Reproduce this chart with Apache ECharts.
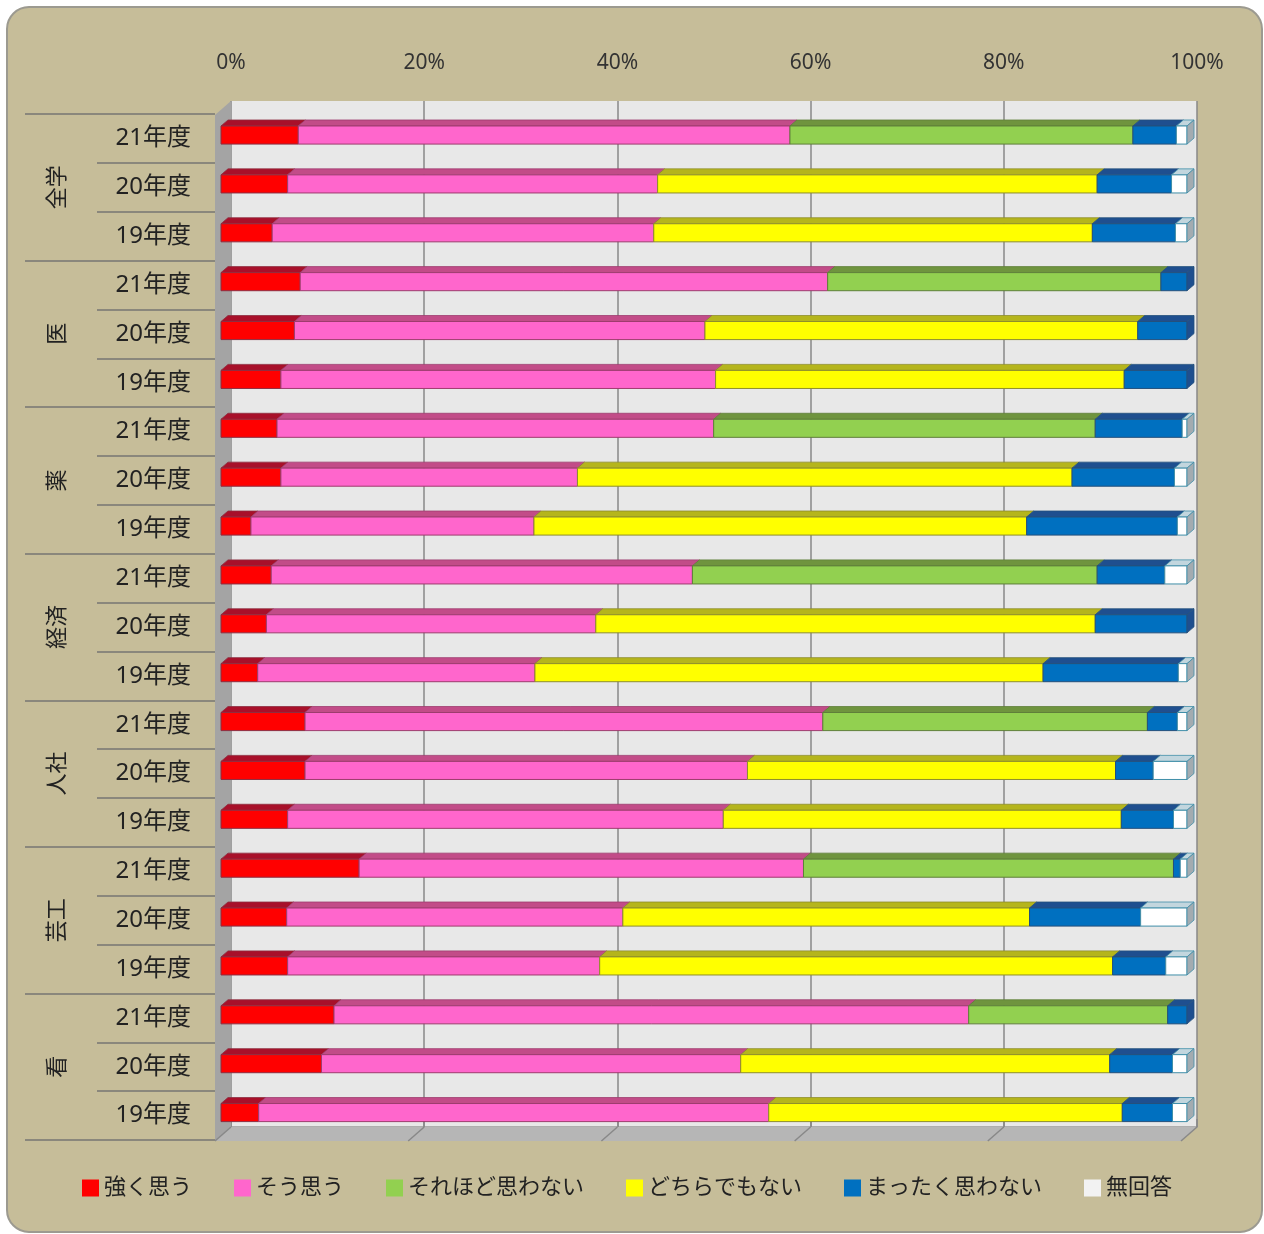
<!DOCTYPE html>
<html>
<head>
<meta charset="utf-8">
<script src="https://cdn.jsdelivr.net/npm/echarts@6/dist/echarts.min.js"></script>
<style>
  html, body { margin: 0; padding: 0; background: #ffffff; }
  #chart { width: 1264px; height: 1234px; }
</style>
</head>
<body>
<div id="chart"></div>
<script>
// 学部 / 年度
const groups = ['全学', '医', '薬', '経済', '人社', '芸工', '看']
const years = ['21年度', '20年度', '19年度']
const rowLabels = groups.flatMap(() => years)

const xTicks = [0, 20, 40, 60, 80, 100]

// 回答割合 (%) 上の行から順に
const strong   = [8.0, 6.9, 5.3, 8.2, 7.6, 6.2, 5.8, 6.2, 3.1, 5.2, 4.7, 3.8, 8.7, 8.7, 6.9, 14.3, 6.8, 6.9, 11.7, 10.4, 3.9]
const agree    = [50.9, 38.3, 39.5, 54.6, 42.5, 45.0, 45.2, 30.7, 29.3, 43.6, 34.1, 28.7, 53.6, 45.8, 45.1, 46.0, 34.8, 32.3, 65.7, 43.4, 52.8]
const notMuch  = [35.5, 0, 0, 34.5, 0, 0, 39.5, 0, 0, 41.9, 0, 0, 33.6, 0, 0, 38.3, 0, 0, 20.6, 0, 0]
const neither  = [0, 45.5, 45.4, 0, 44.8, 42.3, 0, 51.2, 51.0, 0, 51.7, 52.6, 0, 38.1, 41.2, 0, 42.1, 53.1, 0, 38.2, 36.6]
const notAtAll = [4.5, 7.7, 8.6, 2.7, 5.1, 6.5, 9.0, 10.6, 15.6, 7.0, 9.5, 14.0, 3.1, 3.9, 5.4, 0.7, 11.5, 5.5, 2.0, 6.5, 5.2]
const noAnswer = [1.1, 1.6, 1.2, 0, 0, 0, 0.5, 1.3, 1.0, 2.3, 0, 0.9, 1.0, 3.5, 1.4, 0.7, 4.8, 2.2, 0, 1.5, 1.5]

const seriesNames = ['強く思う', 'そう思う', 'それほど思わない', 'どちらでもない', 'まったく思わない', '無回答']
const seriesValues = [strong, agree, notMuch, neither, notAtAll, noAnswer]

// 3D風の面の色
const styles = [
  { legend: '#ff0000', front: '#ff0000', top: '#a8102a', side: '#a8102a', border: '#8e2d40' },
  { legend: '#ff66cc', front: '#ff66cc', top: '#c24c88', side: '#c24c88', border: '#9e3c6e' },
  { legend: '#92d050', front: '#92d050', top: '#6f943e', side: '#6f943e', border: '#5f7f3a' },
  { legend: '#ffff00', front: '#ffff00', top: '#b5b51c', side: '#b5b51c', border: '#8e8e2c' },
  { legend: '#0070c0', front: '#0070c0', top: '#1f4f8f', side: '#1f4f8f', border: '#24507c' },
  { legend: '#f2f2f2', front: '#ffffff', top: '#c2d6de', side: '#a3abb0', border: '#3f8ea8' }
]

const FONT = "'Noto Sans', 'Noto Sans CJK JP', sans-serif"
const DX = 7
const DY = 6

// 奥の壁の位置
const BACK = { left: 231, right: 1197, top: 101, bottom: 1127 }
const FRONT_SHIFT = 16

// 各区分の開始位置を積み上げて作る
const cumulative = strong.map(() => 0)
const lastIndex = rowLabels.map((_, r) => {
  let last = 0
  seriesValues.forEach((vals, s) => { if (vals[r] > 0) last = s })
  return last
})
const seriesData = seriesValues.map((vals, s) => vals.map((v, r) => {
  const start = cumulative[r]
  cumulative[r] += v
  return [start, start + v, r, lastIndex[r] === s ? 1 : 0]
}))

const renderSegment = (params, api) => {
  const start = api.value(0)
  const end = api.value(1)
  if (end - start <= 0) return null
  const cat = api.value(2)
  const isLast = api.value(3) === 1
  const a = api.coord([start, cat])
  const b = api.coord([end, cat])
  const h = api.size([0, 1])[1] * 0.37
  const x0 = a[0]
  const x1 = b[0]
  const y0 = a[1] - h / 2
  const y1 = y0 + h
  const st = styles[params.seriesIndex]
  const children = [
    {
      type: 'polygon',
      shape: { points: [[x0, y0], [x1, y0], [x1 + DX, y0 - DY], [x0 + DX, y0 - DY]] },
      style: { fill: st.top, stroke: st.border, lineWidth: 0.8 }
    },
    {
      type: 'rect',
      shape: { x: x0, y: y0, width: x1 - x0, height: h },
      style: { fill: st.front, stroke: st.border, lineWidth: 1 }
    }
  ]
  if (isLast) {
    children.push({
      type: 'polygon',
      shape: { points: [[x1, y0], [x1 + DX, y0 - DY], [x1 + DX, y1 - DY], [x1, y1]] },
      style: { fill: st.side, stroke: st.border, lineWidth: 0.8 }
    })
  }
  return { type: 'group', children }
}

// 床の目盛線
const floorLines = xTicks.map(v => {
  const x = BACK.left + (BACK.right - BACK.left) * v / 100
  return {
    type: 'line',
    z: 1,
    shape: { x1: x, y1: BACK.bottom, x2: x - FRONT_SHIFT, y2: BACK.bottom + 14 },
    style: { stroke: '#888888', lineWidth: 1.5 }
  }
})

const chart = echarts.init(document.getElementById('chart'))

chart.setOption({
  animation: false,
  backgroundColor: '#ffffff',
  textStyle: { fontFamily: FONT },
  graphic: [
    {
      type: 'rect',
      z: -10,
      shape: { x: 7, y: 7, width: 1255, height: 1225, r: 22 },
      style: { fill: '#c6bd99', stroke: '#9c9a90', lineWidth: 2 }
    },
    {
      type: 'polygon',
      z: 1,
      shape: { points: [[BACK.left, BACK.top], [BACK.left, BACK.bottom], [BACK.left - FRONT_SHIFT, BACK.bottom + 14], [BACK.left - FRONT_SHIFT, BACK.top + 14]] },
      style: { fill: '#a4a4a4' }
    },
    {
      type: 'polygon',
      z: 1,
      shape: { points: [[BACK.left, BACK.bottom], [BACK.right, BACK.bottom], [BACK.right - FRONT_SHIFT, BACK.bottom + 14], [BACK.left - FRONT_SHIFT, BACK.bottom + 14]] },
      style: { fill: '#b6b6b6' }
    },
    ...floorLines
  ],
  legend: {
    data: seriesNames,
    left: 77,
    top: 1172,
    icon: 'rect',
    itemWidth: 17,
    itemHeight: 17,
    itemGap: 42,
    textStyle: { fontSize: 22, color: '#222222', fontFamily: FONT }
  },
  grid: [
    {
      left: BACK.left, right: 1264 - BACK.right, top: BACK.top, bottom: 1234 - BACK.bottom,
      show: true, backgroundColor: '#e8e8e8', borderWidth: 0
    },
    { left: 221, right: 77, top: 110.6, bottom: 97 },
    { left: 215, right: 67, top: 114, bottom: 94 }
  ],
  xAxis: [
    {
      gridIndex: 0,
      type: 'value',
      position: 'top',
      min: 0,
      max: 100,
      interval: 20,
      axisLabel: { formatter: '{value}%', fontSize: 21, color: '#333333', margin: 27 },
      axisTick: { show: true, length: 8, lineStyle: { color: '#888888', width: 1.5 } },
      axisLine: { show: true, lineStyle: { color: '#9a9a9a', width: 1.5 } },
      splitLine: { show: true, lineStyle: { color: '#888888', width: 1.5 } }
    },
    { gridIndex: 1, type: 'value', min: 0, max: 100, show: false },
    { gridIndex: 2, type: 'value', min: 0, max: 100, show: false }
  ],
  yAxis: [
    { gridIndex: 0, type: 'value', show: false },
    { gridIndex: 1, type: 'category', data: rowLabels, inverse: true, show: false },
    {
      gridIndex: 2,
      type: 'category',
      data: rowLabels,
      inverse: true,
      position: 'left',
      axisLine: { show: false },
      axisTick: { show: true, length: 118, interval: 0, lineStyle: { color: '#8a877c', width: 2 } },
      axisLabel: { fontSize: 24, color: '#222222', margin: 24, interval: 0 }
    },
    {
      gridIndex: 2,
      type: 'category',
      data: groups,
      inverse: true,
      position: 'left',
      axisLine: { show: false },
      axisTick: { show: true, length: 190, interval: 0, lineStyle: { color: '#8a877c', width: 2 } },
      axisLabel: { fontSize: 22, color: '#222222', rotate: 90, margin: 146, interval: 0 }
    }
  ],
  series: seriesNames.map((name, s) => ({
    name,
    type: 'custom',
    xAxisIndex: 1,
    yAxisIndex: 1,
    z: 3,
    itemStyle: { color: styles[s].legend },
    encode: { x: [0, 1], y: 2 },
    renderItem: renderSegment,
    data: seriesData[s]
  }))
})
</script>
</body>
</html>
